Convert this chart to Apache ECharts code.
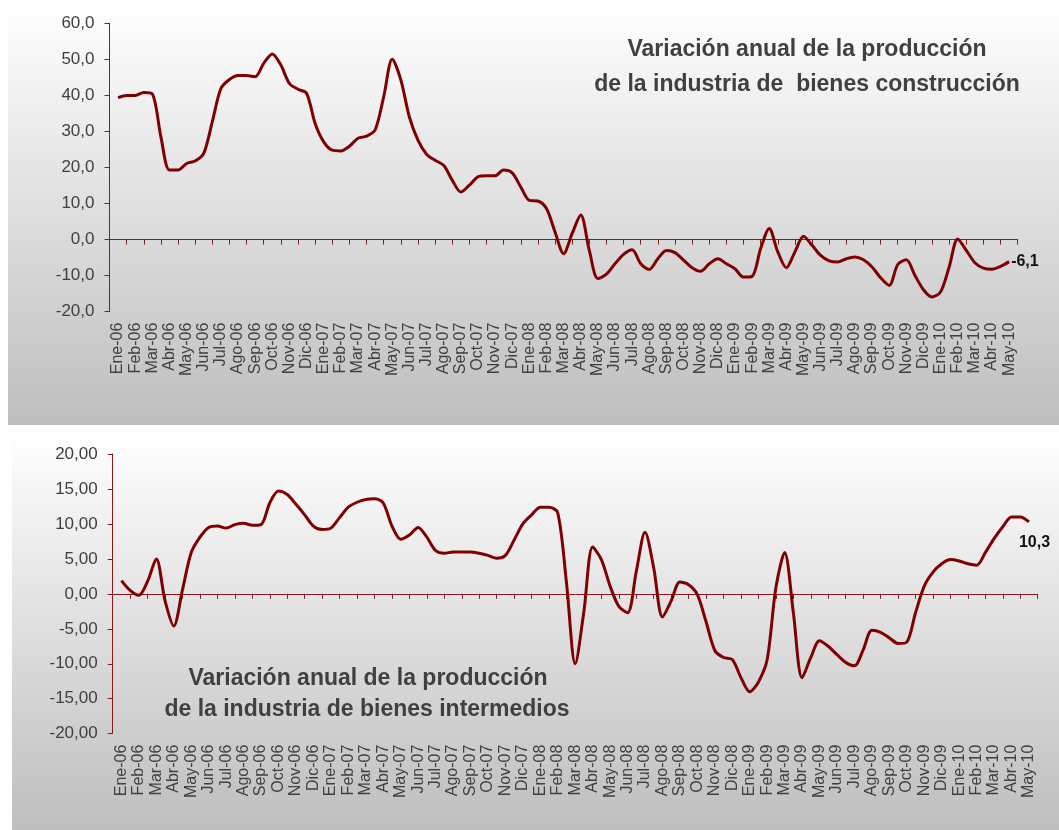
<!DOCTYPE html>
<html>
<head>
<meta charset="utf-8">
<script src="https://cdn.jsdelivr.net/npm/echarts@6/dist/echarts.min.js"></script>
<style>
html,body{margin:0;padding:0;background:#ffffff;}
#chart{width:1059px;height:830px;}
</style>
</head>
<body>
<div id="chart"></div>
<script>
// Month labels (category axis)
const categories = [
  'Ene-06','Feb-06','Mar-06','Abr-06','May-06','Jun-06','Jul-06','Ago-06','Sep-06','Oct-06','Nov-06','Dic-06',
  'Ene-07','Feb-07','Mar-07','Abr-07','May-07','Jun-07','Jul-07','Ago-07','Sep-07','Oct-07','Nov-07','Dic-07',
  'Ene-08','Feb-08','Mar-08','Abr-08','May-08','Jun-08','Jul-08','Ago-08','Sep-08','Oct-08','Nov-08','Dic-08',
  'Ene-09','Feb-09','Mar-09','Abr-09','May-09','Jun-09','Jul-09','Ago-09','Sep-09','Oct-09','Nov-09','Dic-09',
  'Ene-10','Feb-10','Mar-10','Abr-10','May-10'
];

// Readings taken every half month, starting at Ene-06
const stepMonths = 0.5;

// Construcción (%), half-month readings
const construccion = [
  39.4, 40.0, 40.0, 40.8, 40.4, 28.5, 19.3, 19.3, 21.1, 21.8, 23.9, 32.7,
  41.9, 44.4, 45.5, 45.5, 45.2, 48.9, 51.5, 48.4, 43.3, 41.7, 40.6, 32.2,
  27.1, 24.8, 24.6, 25.9, 28.1, 28.7, 30.4, 39.6, 50.0, 44.3, 34.0, 27.6,
  23.7, 22.0, 20.6, 16.5, 13.2, 15.1, 17.4, 17.7, 17.7, 19.3, 18.5, 14.6,
  10.9, 10.7, 8.6, 2.1, -3.9, 1.7, 6.8, -3.0, -10.8, -9.6, -6.7, -4.1,
  -2.8, -6.7, -8.3, -5.3, -3.0, -3.6, -5.7, -7.8, -8.8, -6.7, -5.3, -6.7,
  -8.1, -10.4, -10.2, -2.5, 3.1, -3.4, -7.8, -3.4, 0.9, -1.6, -4.4, -5.9,
  -6.2, -5.3, -4.8, -5.6, -7.6, -10.6, -12.7, -6.9, -5.6, -9.9, -13.9, -15.9,
  -14.5, -7.6, 0.2, -3.0, -6.4, -7.9, -8.2, -7.4, -6.1
];

// Intermedios (%), half-month readings
const intermedios = [
  1.9, 0.5, -0.2, 1.8, 5.0, -1.0, -4.6, 0.6, 5.9, 8.1, 9.5, 9.7,
  9.4, 9.9, 10.1, 9.8, 9.9, 13.0, 14.7, 14.2, 12.8, 11.3, 9.7, 9.2,
  9.4, 10.9, 12.4, 13.1, 13.5, 13.6, 13.0, 9.7, 7.8, 8.4, 9.5, 8.1,
  6.2, 5.8, 6.0, 6.0, 6.0, 5.8, 5.5, 5.1, 5.5, 7.7, 10.0, 11.3,
  12.4, 12.4, 11.6, 1.6, -10.0, -2.5, 6.7, 4.9, 1.1, -1.8, -2.7, 3.2,
  8.8, 3.7, -3.3, -1.0, 1.7, 1.3, -0.1, -4.0, -8.1, -9.1, -9.4, -12.0,
  -14.0, -12.6, -9.4, 0.9, 5.9, -2.7, -12.0, -9.1, -6.7, -7.5, -8.7, -9.8,
  -10.3, -8.0, -5.2, -5.5, -6.3, -7.1, -6.9, -2.7, 1.1, 3.1, 4.3, 4.9,
  4.7, 4.3, 4.1, 5.9, 7.9, 9.6, 11.0, 11.0, 10.3
];

const titleTop = ['Variación anual de la producción', 'de la industria de  bienes construcción'];
const titleBottom = ['Variación anual de la producción', 'de la industria de bienes intermedios'];
const lastLabelTop = '-6,1';
const lastLabelBottom = '10,3';

const FONT = "'Liberation Sans', Arial, sans-serif";
const AXIS_COLOR = '#8B1A1A';
const LINE_COLOR = '#800000';
const TEXT_COLOR = '#404040';

function toPairs(arr) { return arr.map((v, i) => [i * stepMonths, v]); }

const chart = echarts.init(document.getElementById('chart'), null, {renderer: 'canvas'});

function panelBg(x, y, w, h) {
  return {
    type: 'rect', z: -10, silent: true,
    shape: {x: x, y: y, width: w, height: h},
    style: {
      fill: new echarts.graphic.LinearGradient(0, 0, 0, 1, [
        {offset: 0, color: '#ffffff'},
        {offset: 1, color: '#bebebe'}
      ])
    }
  };
}
function titleText(txt, x, y) {
  return {
    type: 'text', z: 10, silent: true, x: x, y: y,
    style: {text: txt, fill: TEXT_COLOR, font: 'bold 23px ' + FONT, textAlign: 'center', textVerticalAlign: 'middle'}
  };
}

function xAxesFor(gridIndex) {
  return [
    {type: 'value', gridIndex: gridIndex, position: 'bottom', min: -0.5, max: 52.5, show: false,
      axisLine: {onZero: false}},
    {type: 'category', gridIndex: gridIndex, position: 'bottom', data: categories, boundaryGap: true,
      axisLine: {show: true, onZero: true, lineStyle: {color: AXIS_COLOR, width: 1}},
      axisTick: {show: true, length: 5, interval: 0, lineStyle: {color: AXIS_COLOR}},
      axisLabel: {show: false}, splitLine: {show: false}},
    {type: 'category', gridIndex: gridIndex, data: categories, boundaryGap: true, position: 'bottom',
      axisLine: {show: false, onZero: false}, axisTick: {show: false},
      axisLabel: {show: true, rotate: 90, interval: 0, fontSize: 16, color: TEXT_COLOR, fontFamily: FONT, margin: 11},
      splitLine: {show: false}}
  ];
}

function yAxisFor(gridIndex, min, max, interval, digits) {
  return {
    type: 'value', gridIndex: gridIndex, position: 'left', min: min, max: max, interval: interval,
    axisLine: {show: true, onZero: false, lineStyle: {color: AXIS_COLOR, width: 1}},
    axisTick: {show: true, length: 5, lineStyle: {color: AXIS_COLOR}},
    splitLine: {show: false},
    axisLabel: {color: TEXT_COLOR, fontSize: 17, fontFamily: FONT, margin: 15,
      formatter: v => v.toFixed(digits).replace('.', ',')}
  };
}

const option = {
  animation: false,
  backgroundColor: '#ffffff',
  grid: [
    {left: 109.5, top: 23.3, width: 908.2, height: 288.4},
    {left: 112.7, top: 454, width: 925, height: 279.7}
  ],
  xAxis: [].concat(xAxesFor(0), xAxesFor(1)),
  yAxis: [
    yAxisFor(0, -20, 60, 10, 1),
    yAxisFor(1, -20, 20, 5, 2)
  ],
  graphic: [
    panelBg(8, 3, 1051, 422),
    panelBg(12, 432, 1047, 398),
    titleText(titleTop[0], 807, 50),
    titleText(titleTop[1], 807, 85),
    titleText(titleBottom[0], 368, 679),
    titleText(titleBottom[1], 367, 710)
  ],
  series: [
    {
      type: 'line', xAxisIndex: 0, yAxisIndex: 0, data: toPairs(construccion),
      showSymbol: false, smooth: 0.3,
      lineStyle: {color: LINE_COLOR, width: 3}, itemStyle: {color: LINE_COLOR},
      endLabel: {show: true, formatter: lastLabelTop, distance: 2, color: '#111111',
        fontWeight: 'bold', fontSize: 16, fontFamily: FONT}
    },
    {
      type: 'line', xAxisIndex: 3, yAxisIndex: 1, data: toPairs(intermedios),
      showSymbol: false, smooth: 0.3,
      lineStyle: {color: LINE_COLOR, width: 3}, itemStyle: {color: LINE_COLOR},
      endLabel: {show: true, formatter: lastLabelBottom, distance: 0, offset: [-10, 21], color: '#111111',
        fontWeight: 'bold', fontSize: 16, fontFamily: FONT}
    }
  ]
};
chart.setOption(option);
</script>
</body>
</html>
